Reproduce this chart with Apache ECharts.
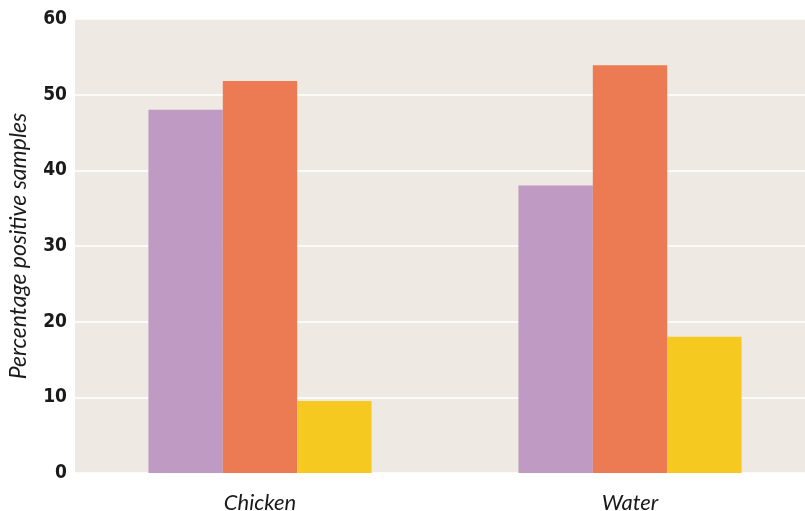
<!DOCTYPE html>
<html>
<head>
<meta charset="utf-8">
<script src="https://cdn.jsdelivr.net/npm/echarts@6/dist/echarts.min.js"></script>
<style>
  html, body { margin: 0; padding: 0; background: #ffffff; }
  #chart { width: 805px; height: 511px; }
</style>
</head>
<body>
<div id="chart"></div>
<script>
const categorias = ['Chicken', 'Water'];
const serie_a = [48, 38];     // purple
const serie_b = [51.8, 53.9]; // orange
const serie_c = [9.5, 18];    // yellow
const ticks_y = [0, 10, 20, 30, 40, 50, 60];

var myChart = echarts.init(document.getElementById('chart'));

function barra(nombre, datos, color){
    return {
        name: nombre,
        type: 'bar',
        data: datos,
        barGap: '0%',
        barCategoryGap: '39.7%',
        itemStyle: { color: color },
        emphasis: { disabled: true }
    };
}

var option = {
    animation: false,
    grid: {
        left: 75,
        right: -10,
        top: 19,
        bottom: 38,
        outerBoundsMode: 'none',
        containLabel: false,
        show: true,
        backgroundColor: '#eee9e2',
        borderWidth: 0
    },
    xAxis: {
        type: 'category',
        data: categorias,
        axisLine: { show: false },
        axisTick: { show: false },
        axisLabel: {
            margin: 19,
            fontFamily: 'Lato',
            fontStyle: 'italic',
            fontSize: 22,
            color: '#1a1a1a'
        }
    },
    yAxis: {
        type: 'value',
        min: ticks_y[0],
        max: ticks_y[ticks_y.length - 1],
        interval: 10,
        name: 'Percentage positive samples',
        nameLocation: 'middle',
        nameGap: 45,
        nameTextStyle: {
            fontFamily: 'Lato',
            fontStyle: 'italic',
            fontSize: 23,
            color: '#1a1a1a'
        },
        axisLine: { show: false },
        axisTick: { show: false },
        axisLabel: {
            margin: 8,
            fontFamily: 'DejaVu Sans Condensed',
            fontWeight: 'bold',
            fontSize: 19,
            color: '#1a1a1a'
        },
        splitLine: {
            lineStyle: { color: '#ffffff', width: 1.5 }
        }
    },
    series: [
        barra('A', serie_a, '#bf9ac3'),
        barra('B', serie_b, '#ec7a52'),
        barra('C', serie_c, '#f5c920')
    ]
};

myChart.setOption(option);
</script>
</body>
</html>
